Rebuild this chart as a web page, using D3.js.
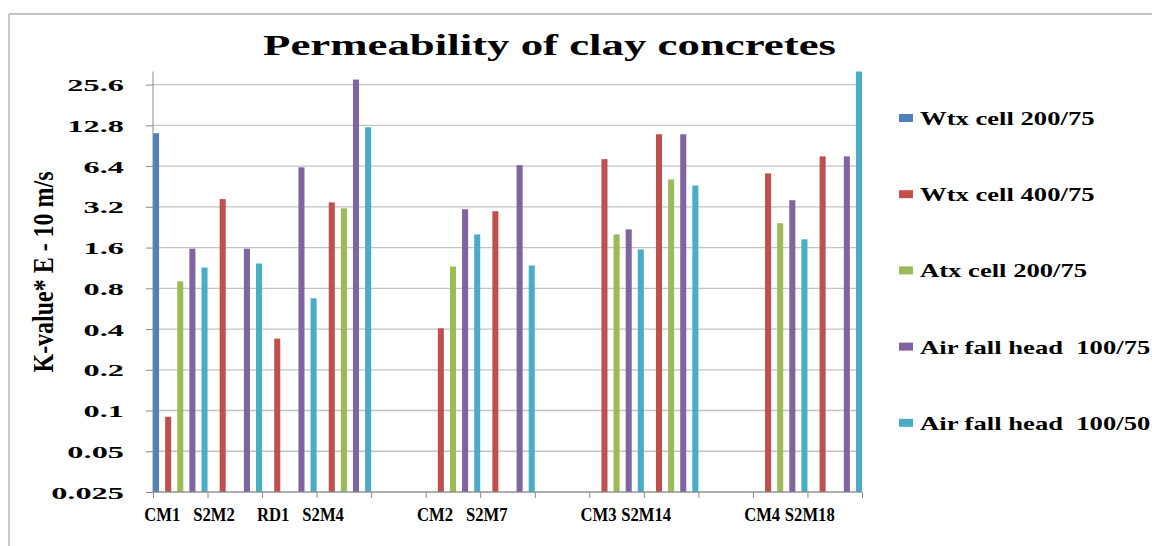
<!DOCTYPE html>
<html>
<head>
<meta charset="utf-8">
<script src="https://cdn.jsdelivr.net/npm/d3@7"></script>
<style>
  body { margin: 0; background: #fff; }
  svg { display: block; }
  text { font-family: "Liberation Serif", "Times New Roman", serif; font-weight: bold; fill: #000; }
</style>
</head>
<body>
<svg id="chart" width="1152" height="546"></svg>
<script>
// categories along the x axis (blank ones are empty gaps)
const categories = ["CM1", "S2M2", "RD1", "S2M4", "", "CM2", "S2M7", "", "CM3", "S2M14", "", "CM4", "S2M18"];
const seriesNames = ["Wtx cell 200/75", "Wtx cell 400/75", "Atx cell 200/75", "Air fall head  100/75", "Air fall head  100/50"];
const seriesColors = ["#4F81BD", "#C0504D", "#9BBB59", "#8064A2", "#4BACC6"];

// values, null = no bar
const wtx200 = [11.2, null, null, null, null, null, null, null, null, null, null, null, null];
const wtx400 = [0.09, 3.65, 0.34, 3.45, null, 0.405, 2.97, null, 7.2, 11.0, null, 5.65, 7.55];
const atx200 = [0.9, null, null, 3.12, null, 1.16, null, null, 2.0, 5.1, null, 2.42, null];
const air75 = [1.57, 1.57, 6.27, 27.9, null, 3.07, 6.5, null, 2.18, 11.0, null, 3.58, 7.55];
const air50 = [1.14, 1.22, 0.675, 12.4, null, 2.0, 1.18, null, 1.55, 4.6, null, 1.84, 32];
const allSeries = [wtx200, wtx400, atx200, air75, air50];

const yTicks = [0.025, 0.05, 0.1, 0.2, 0.4, 0.8, 1.6, 3.2, 6.4, 12.8, 25.6];
const yTickLabels = ["0.025", "0.05", "0.1", "0.2", "0.4", "0.8", "1.6", "3.2", "6.4", "12.8", "25.6"];

const svg = d3.select("#chart");
const plotLeft = 153, plotRight = 862, plotTop = 71.5, plotBottom = 492;

// outer frame (top and left edges only visible)
svg.append("line").attr("x1", 9).attr("x2", 1152).attr("y1", 14).attr("y2", 14)
  .attr("stroke", "#c4c4c4").attr("stroke-width", 2);
svg.append("line").attr("x1", 9).attr("x2", 9).attr("y1", 14).attr("y2", 546)
  .attr("stroke", "#a6a6a6").attr("stroke-width", 1.2);

const x = d3.scaleBand().domain(d3.range(categories.length)).range([plotLeft, plotRight]);
const xs = d3.scaleBand().domain(d3.range(seriesNames.length)).range([0, x.bandwidth()])
  .paddingInner(0.5).paddingOuter(0);
const y = d3.scaleLog().base(2).domain([0.025, 32]).range([plotBottom, plotTop]).clamp(true);

// grid lines
svg.append("g")
  .selectAll("line")
  .data(yTicks)
  .join("line")
  .attr("x1", plotLeft)
  .attr("x2", plotRight)
  .attr("y1", d => y(d))
  .attr("y2", d => y(d))
  .attr("stroke", "#c3c3c3")
  .attr("stroke-width", 1.3);

// bars
allSeries.forEach(function(vals, si) {
  svg.append("g")
    .selectAll("rect")
    .data(vals.map((v, i) => ({ v: v, i: i })).filter(d => d.v !== null))
    .join("rect")
    .attr("x", d => x(d.i) + xs(si))
    .attr("width", xs.bandwidth())
    .attr("y", d => y(d.v))
    .attr("height", d => plotBottom - y(d.v))
    .attr("fill", seriesColors[si]);
});

// y axis
const yAxis = svg.append("g")
  .attr("transform", `translate(${plotLeft},0)`)
  .call(d3.axisLeft(y).tickValues(yTicks).tickSize(7).tickFormat(""));
yAxis.select(".domain").attr("stroke", "#8a8a8a").attr("d", `M0,${plotTop}V${plotBottom}`);
yAxis.selectAll(".tick line").attr("stroke", "#8a8a8a");

svg.append("g")
  .selectAll("text")
  .data(yTicks)
  .join("text")
  .attr("transform", d => `translate(124,${y(d) + 6.5}) scale(1.85,1)`)
  .attr("text-anchor", "end")
  .style("font-size", "17.5px")
  .text((d, i) => yTickLabels[i]);

// x axis
const xAxis = svg.append("g")
  .attr("transform", `translate(0,${plotBottom})`)
  .call(d3.axisBottom(d3.scaleLinear().domain([0, categories.length]).range([plotLeft, plotRight]))
    .ticks(categories.length).tickSize(6).tickFormat(""));
xAxis.select(".domain").attr("stroke", "#8a8a8a").attr("d", `M${plotLeft},0H${plotRight}`);
xAxis.selectAll(".tick line").attr("stroke", "#8a8a8a");

svg.append("g")
  .selectAll("text")
  .data(categories)
  .join("text")
  .attr("transform", (d, i) => `translate(${x(i) + x.bandwidth() / 2},521) scale(0.95,1.05)`)
  .attr("text-anchor", "end")
  .style("font-size", "17.5px")
  .text(d => d);

// title
svg.append("text")
  .attr("x", 263)
  .attr("y", 55)
  .attr("textLength", 573)
  .attr("lengthAdjust", "spacingAndGlyphs")
  .style("font-size", "29px")
  .text("Permeability of clay concretes");

// y axis title
svg.append("text")
  .attr("transform", "translate(53,272) rotate(-90)")
  .attr("text-anchor", "middle")
  .attr("textLength", 201)
  .attr("lengthAdjust", "spacingAndGlyphs")
  .style("font-size", "30px")
  .text("K-value* E - 10 m/s");

// legend
const legend = svg.append("g")
  .selectAll("g")
  .data(seriesNames)
  .join("g")
  .attr("transform", (d, i) => `translate(899,${118 + i * 76.2})`);
legend.append("rect")
  .attr("x", 0).attr("y", -4).attr("width", 14).attr("height", 8)
  .attr("fill", (d, i) => seriesColors[i]);
legend.append("text")
  .attr("transform", "translate(21,7) scale(1.44,1)")
  .attr("xml:space", "preserve")
  .style("white-space", "pre")
  .style("font-size", "18.5px")
  .text(d => d);
</script>
</body>
</html>
